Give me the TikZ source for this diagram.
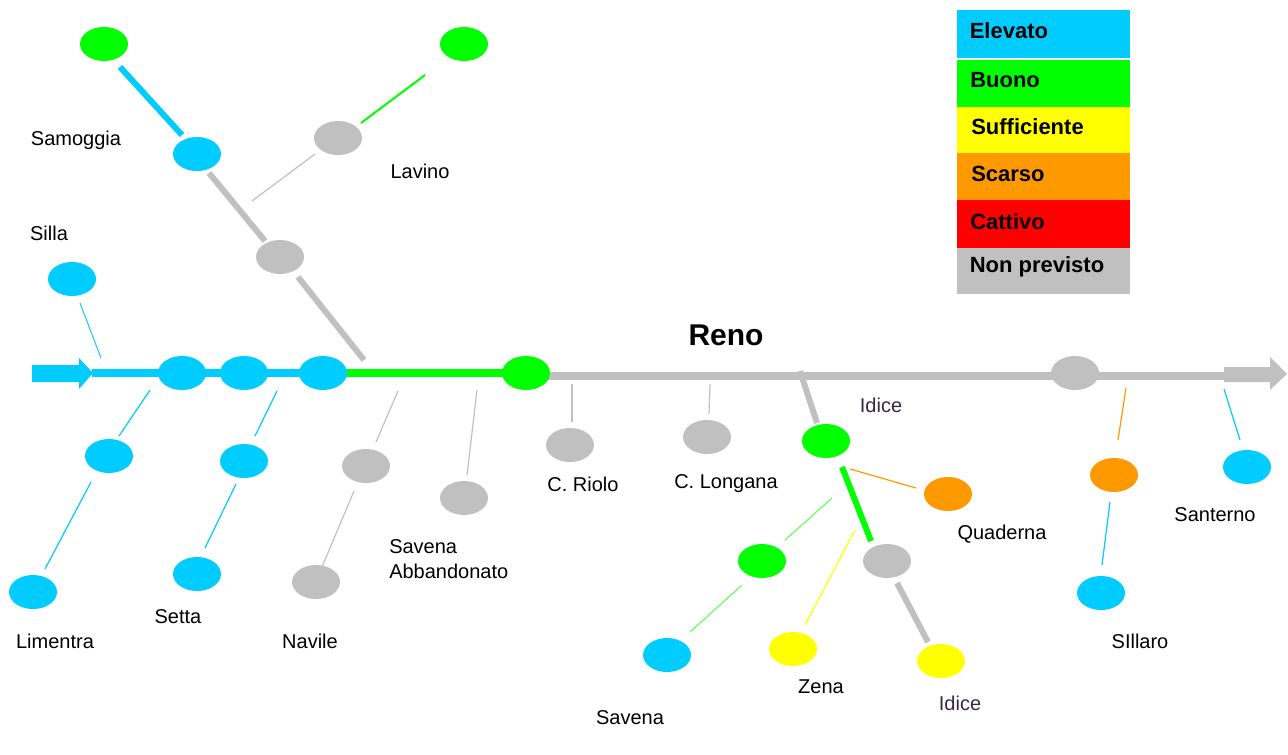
\documentclass[tikz,border=0pt]{standalone}
\usepackage{fontspec}
\setmainfont{Liberation Sans}
\usetikzlibrary{shapes.geometric}
\definecolor{cBlue}{RGB}{0,204,255}
\definecolor{cGreen}{RGB}{0,255,0}
\definecolor{cYellow}{RGB}{255,255,0}
\definecolor{cOrange}{RGB}{255,153,0}
\definecolor{cRed}{RGB}{255,0,0}
\definecolor{cGray}{RGB}{192,192,192}
\definecolor{cPurple}{RGB}{51,40,70}
\tikzset{
  x=0.75pt,y=-0.75pt,
  stat/.style={ellipse,draw=none,inner sep=0pt,minimum width=36pt,minimum height=25.5pt},
  lab/.style={font=\fontsize{15}{18}\selectfont,text=black,inner sep=0pt},
  legbox/.style={draw=none,inner sep=0pt,minimum width=129.75pt,anchor=north west},
  legtxt/.style={font=\fontsize{16.5}{20}\selectfont\bfseries,text=black,inner sep=0pt,anchor=west},
  heavy/.style={line width=4.5pt},
  main/.style={line width=6pt},
  fine/.style={line width=0.9pt},
  finest/.style={line width=0.7pt}
}
\begin{document}
\begin{tikzpicture}
\useasboundingbox (0,0) rectangle (1288,754);

% legend
\fill[cBlue]   (957,10)  rectangle (1130,58);
\fill[cGreen]  (957,60)  rectangle (1130,106.5);
\fill[cYellow] (957,106.5) rectangle (1130,153);
\fill[cOrange] (957,153) rectangle (1130,200);
\fill[cRed]    (957,200) rectangle (1130,247.5);
\fill[cGray]   (957,247.5) rectangle (1130,294);
\node[legtxt] (lE) at (969.5,31) {Elevato};
\node[legtxt] (lB) at (970,80.5) {Buono};
\node[legtxt] (lS) at (971,127) {Sufficiente};
\node[legtxt] (lC) at (971,173.5) {Scarso};
\node[legtxt] (lT) at (970,221.5) {Cattivo};
\node[legtxt] (lN) at (969.5,267) {Non previsto};

% free ends
\foreach \n/\x/\y in {
  a1/120/67, a2/182/135, b1/298/277, b2/364/360,
  c1/425/75, c2/361/123, c3/315/154, c4/252/201,
  d1/80/303, d2/101/358,
  e1/150/390, e2/119/436, e3/91/482, e4/45/569,
  f1/277/391, f2/255/436, f3/236/484, f4/205/548,
  g1/398/391, g2/376/442, g3/354/491, g4/322/567,
  h1/477/390, h2/467/475,
  i1/572/384, i2/572/422, j1/710/384, j2/709/414,
  k1/800/371, k2/817/423,
  l1/850/469, l2/916/488,
  m1/842/467, m2/871/541,
  n1/832/498, n2/785/540, n3/742/585, n4/690/632,
  o1/855/530, o2/805/625,
  p1/897/583, p2/928/642,
  q1/1126/388, q2/1118/440, q3/1110/502, q4/1102/565,
  r1/1224/389, r2/1240/440,
  inS/92/373, greenS/343/373, greenE/526/373, grayS/526/376, grayE/1226/376%
}{\coordinate (\n) at (\x,\y);}

% main line
\draw[main,cBlue] (inS) -- (greenS);
\draw[main,cGreen] (greenS) -- (greenE);
\draw[main,cGray] (grayS) -- (grayE);
\fill[cBlue] (32,365) -- (79,365) -- (79,358) -- (93,373) -- (79,389) -- (79,382) -- (32,382) -- cycle;
\fill[cGray] (1224,367) -- (1270,367) -- (1270,357) -- (1287,374) -- (1270,390) -- (1270,382) -- (1224,382) -- cycle;

% connectors
\draw[heavy,cBlue] (a1) -- (a2);
\draw[heavy,cGray] (209,173) coordinate (s1) -- (265,241) coordinate (s2);
\draw[heavy,cGray] (b1) -- (b2);
\draw[line width=1.5pt,cGreen] (c1) -- (c2);
\draw[fine,cGray] (c3) -- (c4);
\draw[finest,cBlue] (d1) -- (d2);
\draw[fine,cBlue] (e1) -- (e2);
\draw[fine,cBlue] (e3) -- (e4);
\draw[fine,cBlue] (f1) -- (f2);
\draw[fine,cBlue] (f3) -- (f4);
\draw[fine,cGray] (g1) -- (g2);
\draw[fine,cGray] (g3) -- (g4);
\draw[fine,cGray] (h1) -- (h2);
\draw[fine,cGray] (i1) -- (i2);
\draw[fine,cGray] (j1) -- (j2);
\draw[heavy,cGray] (k1) -- (k2);
\draw[fine,cOrange] (l1) -- (l2);
\draw[heavy,cGreen] (m1) -- (m2);
\draw[fine,cGreen!60] (n1) -- (n2);
\draw[fine,cGreen!60] (n3) -- (n4);
\draw[fine,cYellow] (o1) -- (o2);
\draw[heavy,cGray] (p1) -- (p2);
\draw[fine,cOrange] (q1) -- (q2);
\draw[fine,cBlue] (q3) -- (q4);
\draw[fine,cBlue] (r1) -- (r2);

% stations
\node[stat,fill=cGreen] (samA) at (104,44) {};
\node[stat,fill=cGreen] (lavA) at (464,44) {};
\node[stat,fill=cBlue] (samB) at (197,154) {};
\node[stat,fill=cGray] (lavB) at (338,138) {};
\node[stat,fill=cGray] (conf) at (280,257) {};
\node[stat,fill=cBlue] (silla) at (72,279) {};
\node[stat,fill=cBlue] (ma) at (182,373) {};
\node[stat,fill=cBlue] (mb) at (244,373) {};
\node[stat,fill=cBlue] (mc) at (323,373) {};
\node[stat,fill=cGreen] (md) at (526,373) {};
\node[stat,fill=cGray] (me) at (1075,373) {};
\node[stat,fill=cBlue] (limA) at (109,456) {};
\node[stat,fill=cBlue] (limB) at (33,592) {};
\node[stat,fill=cBlue] (setA) at (244,461) {};
\node[stat,fill=cBlue] (setB) at (197,574) {};
\node[stat,fill=cGray] (navA) at (366,466) {};
\node[stat,fill=cGray] (navB) at (316,582) {};
\node[stat,fill=cGray] (abb) at (464,498) {};
\node[stat,fill=cGray] (riolo) at (570,445) {};
\node[stat,fill=cGray] (longana) at (707,437) {};
\node[stat,fill=cGreen] (idA) at (826,441) {};
\node[stat,fill=cOrange] (quad) at (948,494) {};
\node[stat,fill=cGreen] (savA) at (762,561) {};
\node[stat,fill=cBlue] (savB) at (667,655) {};
\node[stat,fill=cYellow] (zena) at (793,649) {};
\node[stat,fill=cGray] (idB) at (887,561) {};
\node[stat,fill=cYellow] (idC) at (941,661) {};
\node[stat,fill=cOrange] (silA) at (1114,475) {};
\node[stat,fill=cBlue] (silB) at (1101,593) {};
\node[stat,fill=cBlue] (sant) at (1247,467) {};

% labels
\node[lab] (t1) at (76,140) {Samoggia};
\node[lab] (t2) at (49,233) {Silla};
\node[lab] (t3) at (420,171) {Lavino};
\node[lab] (t4) at (55,641) {Limentra};
\node[lab] (t5) at (178,617) {Setta};
\node[lab] (t6) at (310,641) {Navile};
\node[lab,anchor=west] (t7) at (389,547) {Savena};
\node[lab,anchor=west] (t8) at (389,571) {Abbandonato};
\node[lab] (t9) at (583,484) {C. Riolo};
\node[lab] (t10) at (726,484) {C. Longana};
\node[lab,text=cPurple] (t11) at (881,405) {Idice};
\node[lab] (t12) at (1002,534) {Quaderna};
\node[lab] (t13) at (821,687) {Zena};
\node[lab,text=cPurple] (t14) at (960,703) {Idice};
\node[lab] (t15) at (630,718) {Savena};
\node[lab] (t16) at (1140,641) {SIllaro};
\node[lab] (t17) at (1215,515) {Santerno};
\node[lab,font=\fontsize{22.5}{26}\selectfont\bfseries] (t18) at (726,335) {Reno};
\end{tikzpicture}
\end{document}
